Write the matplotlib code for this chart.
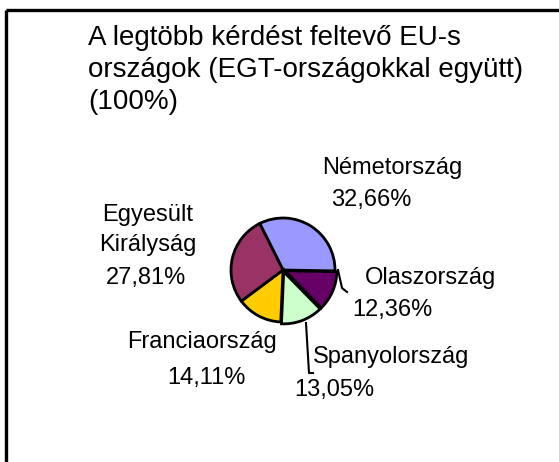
import matplotlib
matplotlib.use("Agg")
import matplotlib.pyplot as plt

plt.rcParams['font.family'] = ['Liberation Sans', 'DejaVu Sans']

# share of questions by country (%)
countries = ["Németország", "Olaszország", "Spanyolország", "Franciaország", "Egyesült\nKirályság"]
values = [32.66, 12.36, 13.05, 14.11, 27.81]
value_labels = ["32,66%", "12,36%", "13,05%", "14,11%", "27,81%"]
colors = ["#9999FF", "#660066", "#CCFFCC", "#FFCC00", "#993366"]
title = "A legtöbb kérdést feltevő EU-s\nországok (EGT-országokkal együtt)\n(100%)"

W, H = 559, 462
fig = plt.figure(figsize=(W / 100, H / 100), dpi=100)
ax = fig.add_axes([0, 0, 1, 1])
ax.set_xlim(0, W)
ax.set_ylim(0, H)
ax.axis("off")

def py(y):
    # pixel row -> data y
    return H - y

# frame (only top and left edges visible)
ax.plot([6, W], [py(10), py(10)], color="black", lw=2.4, solid_capstyle="butt")
ax.plot([6, 6], [py(10), 0], color="black", lw=2.4, solid_capstyle="butt")

ax.text(88, py(25), title, fontsize=20, ha="left", va="top", linespacing=1.3)

ax.pie(values, colors=colors, startangle=116.6, counterclock=False,
       center=(283, py(270)), radius=52, explode=[0, 2, 2, 0, 0],
       wedgeprops=dict(edgecolor="black", linewidth=2))
ax.set_xlim(0, W)
ax.set_ylim(0, H)
ax.set_aspect("auto")

# label placement (pixel coords: name x, name y, value x, value y)
label_pos = [
    (392, 168, 371, 200),
    (430, 278, 392, 310),
    (391, 357, 334, 390),
    (202, 342, 206, 378),
    (148, 230, 146, 278),
]
for name, val, (nx, ny, vx, vy) in zip(countries, value_labels, label_pos):
    ax.text(nx, py(ny), name, fontsize=17, ha="center", va="center", linespacing=1.45)
    ax.text(vx, py(vy), val, fontsize=17, ha="center", va="center")

# leader lines
ax.plot([338, 342, 347], [py(270), py(288), py(292)], color="black", lw=1.5)
ax.plot([306, 309, 313], [py(323), py(373), py(373)], color="black", lw=1.5)

fig.savefig("out.png", dpi=100)
